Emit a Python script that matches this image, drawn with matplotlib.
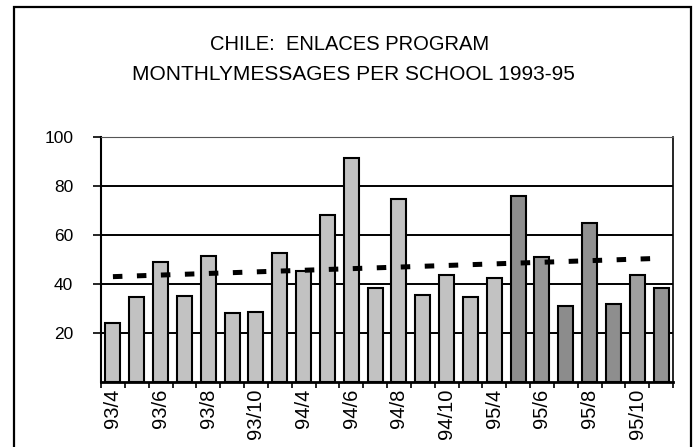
import numpy as np
import matplotlib
matplotlib.use("Agg")
import matplotlib.pyplot as plt
from matplotlib.patches import Rectangle

# monthly messages per school, Apr-Nov each year 1993-95
months = ["93/4", "93/5", "93/6", "93/7", "93/8", "93/9", "93/10", "93/11",
          "94/4", "94/5", "94/6", "94/7", "94/8", "94/9", "94/10", "94/11",
          "95/4", "95/5", "95/6", "95/7", "95/8", "95/9", "95/10", "95/11"]
messages = [24, 34.5, 49, 35, 51.5, 28, 28.5, 52.5,
            45.5, 68, 91.5, 38.5, 74.5, 35.5, 43.5, 34.5,
            42.5, 76, 51, 31, 65, 32, 43.5, 38.5]
tick_labels = ["93/4", "93/6", "93/8", "93/10", "94/4", "94/6",
               "94/8", "94/10", "95/4", "95/6", "95/8", "95/10"]
trend_ends = [43, 50.5]   # dashed trend line, first and last month

yticks = [20, 40, 60, 80, 100]

plt.rcParams['font.family'] = ['Liberation Sans', 'DejaVu Sans']

fig = plt.figure(figsize=(6.93, 4.47), dpi=100)
# outer frame of the scanned chart (bottom edge is cut off)
fig.patches.append(Rectangle((14 / 693, -0.05), 677 / 693, 1.05 - 7 / 447,
                             transform=fig.transFigure, fill=False,
                             edgecolor="black", linewidth=1.6))

ax = fig.add_axes([101 / 693, 65 / 447, 572 / 693, 245 / 447])

x = np.arange(len(messages))
colors = ["#c2c2c2"] * 17 + ["#8e8e8e", "#969696", "#8c8c8c", "#909090",
                             "#8e8e8e", "#a0a0a0", "#939393"]
for yv in yticks[:-1]:
    ax.axhline(yv, color="black", linewidth=1.4, zorder=1)
ax.bar(x, messages, width=0.63, color=colors, edgecolor="black",
       linewidth=1.5, zorder=2)

ax.plot([x[0], x[-1]], trend_ends, color="black", linewidth=3.6,
        dashes=(1.9, 2.9), zorder=3)

ax.set_xlim(-0.5, len(messages) - 0.5)
ax.set_ylim(0, 100)
ax.set_yticks(yticks)
ax.set_yticklabels([str(v) for v in yticks], fontsize=12.5)
ax.tick_params(axis="y", length=6, width=1.2, pad=14)

# ticks at category boundaries, labels on every other month
ax.set_xticks(np.arange(len(messages) + 1) - 0.5)
ax.set_xticklabels([])
ax.tick_params(axis="x", which="major", length=4, width=1.2)
ax.set_xticks(x[::2], minor=True)
ax.set_xticklabels(tick_labels, minor=True, rotation=90, fontsize=14.5)
ax.tick_params(axis="x", which="minor", length=0, pad=5)

ax.spines["bottom"].set_linewidth(2)
ax.spines["left"].set_linewidth(1.5)
ax.spines["top"].set_linewidth(0.8)
ax.spines["top"].set_color("#555555")
ax.spines["right"].set_linewidth(1.2)

fig.text(0.505, 1 - 45 / 447, "CHILE:  ENLACES PROGRAM", fontsize=14.5,
         ha="center", va="center")
fig.text(0.51, 1 - 74 / 447, "MONTHLYMESSAGES PER SCHOOL 1993-95",
         fontsize=15, ha="center", va="center")

fig.savefig("out.png", dpi=100)
